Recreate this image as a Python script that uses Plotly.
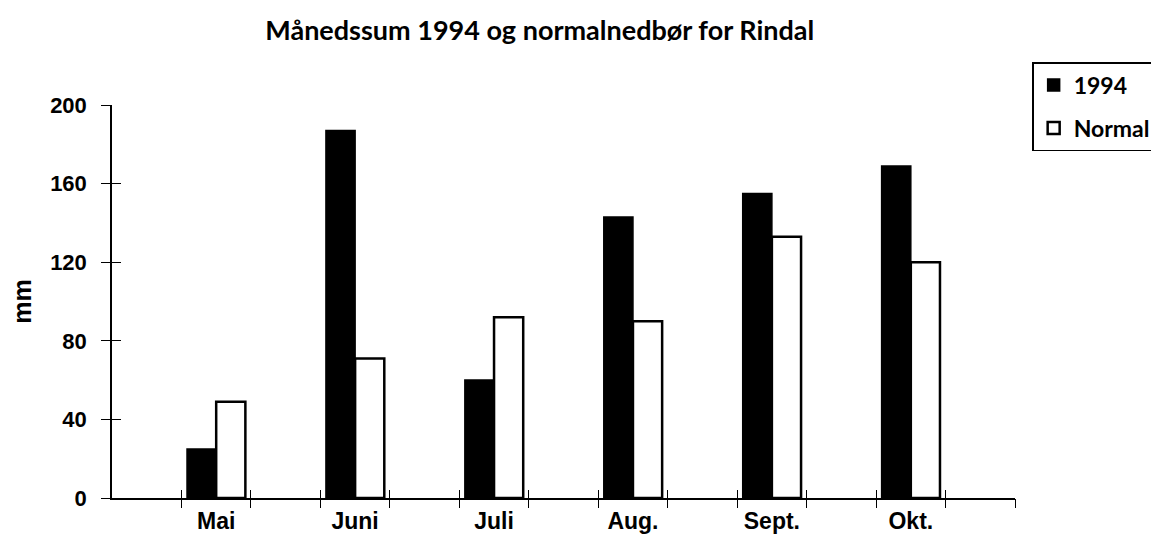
import plotly.graph_objects as go

months = ["Mai", "Juni", "Juli", "Aug.", "Sept.", "Okt."]
vals_1994 = [25, 187, 60, 143, 155, 169]
vals_normal = [49, 71, 92, 90, 133, 120]
y_ticks = [0, 40, 80, 120, 160, 200]

xpos = list(range(len(months)))
boundary_ticks = [-0.25 + 0.5 * k for k in range(2 * len(months) + 1)]
xr = [-0.75, len(months) - 0.25]

tick_font = dict(family="Liberation Sans, Arial, sans-serif", size=22, color="black", weight="bold")
xlab_font = dict(family="Liberation Sans, Arial, sans-serif", size=23, color="black", weight="bold")
mm_font = dict(family="Liberation Sans, Arial, sans-serif", size=25, color="black", weight="bold")
geo_font = dict(family="Lato, sans-serif", size=23, color="black", weight="bold")

fig = go.Figure()
fig.add_trace(go.Bar(x=xpos, y=vals_1994, name="1994", legendgroup="a",
                     marker=dict(color="black", line=dict(color="black", width=1.5))))
fig.add_trace(go.Bar(x=xpos, y=vals_normal, name="Normal", legendgroup="b",
                     marker=dict(color="white", line=dict(color="black", width=2.5))))
# helper traces so the overlay tick axes are drawn
fig.add_trace(go.Scatter(x=[], y=[], xaxis="x2", yaxis="y", showlegend=False))
fig.add_trace(go.Scatter(x=[], y=[], xaxis="x3", yaxis="y", showlegend=False))
fig.add_trace(go.Scatter(x=[], y=[], xaxis="x", yaxis="y2", showlegend=False))

# the page has an 8px body margin, so the figure is sized to fit inside the window
fig.update_layout(
    width=1151, height=531,
    paper_bgcolor="white", plot_bgcolor="white",
    margin=dict(l=104, r=144, t=97, b=41, autoexpand=False),
    barmode="group", bargap=0.58, bargroupgap=0,
    title=dict(text="Månedssum 1994 og normalnedbør for Rindal",
               x=0.462, xanchor="center", y=0.958, yanchor="middle",
               font=dict(family="Lato, sans-serif", size=27, color="black", weight="bold")),
    showlegend=True,
    legend=dict(x=1.019, xanchor="left", y=1.109, yanchor="top",
                bordercolor="black", borderwidth=1.5, bgcolor="white",
                font=geo_font, traceorder="grouped", itemwidth=30,
                tracegroupgap=10),
    xaxis=dict(range=xr, tickmode="array", tickvals=xpos, ticktext=months,
               ticks="", showline=True, linecolor="black", linewidth=1.5,
               showgrid=False, zeroline=False, tickfont=xlab_font,
               ticklabelstandoff=2, automargin=False),
    xaxis2=dict(range=xr, overlaying="x", anchor="y", side="bottom",
                tickmode="array", tickvals=boundary_ticks, ticks="outside",
                ticklen=9, tickwidth=1.2, tickcolor="black", automargin=False,
                showticklabels=False, showline=False, showgrid=False, zeroline=False),
    xaxis3=dict(range=xr, overlaying="x", anchor="y", side="bottom",
                tickmode="array", tickvals=boundary_ticks, ticks="inside",
                ticklen=8, tickwidth=1.2, tickcolor="black", automargin=False,
                showticklabels=False, showline=False, showgrid=False, zeroline=False),
    yaxis=dict(range=[0, 200], tickmode="array", tickvals=y_ticks,
               ticks="outside", ticklen=9, tickwidth=1.2, tickcolor="black",
               showline=True, linecolor="black", linewidth=1.5,
               showgrid=False, zeroline=False, tickfont=tick_font,
               ticklabelstandoff=10, automargin=False,
               title=dict(text="mm", font=mm_font, standoff=20)),
    yaxis2=dict(range=[0, 200], overlaying="y", anchor="x", side="left",
                tickmode="array", tickvals=y_ticks, ticks="inside",
                ticklen=9, tickwidth=1.2, tickcolor="black", automargin=False,
                showticklabels=False, showline=False, showgrid=False, zeroline=False),
)

fig.write_html("out.html")
